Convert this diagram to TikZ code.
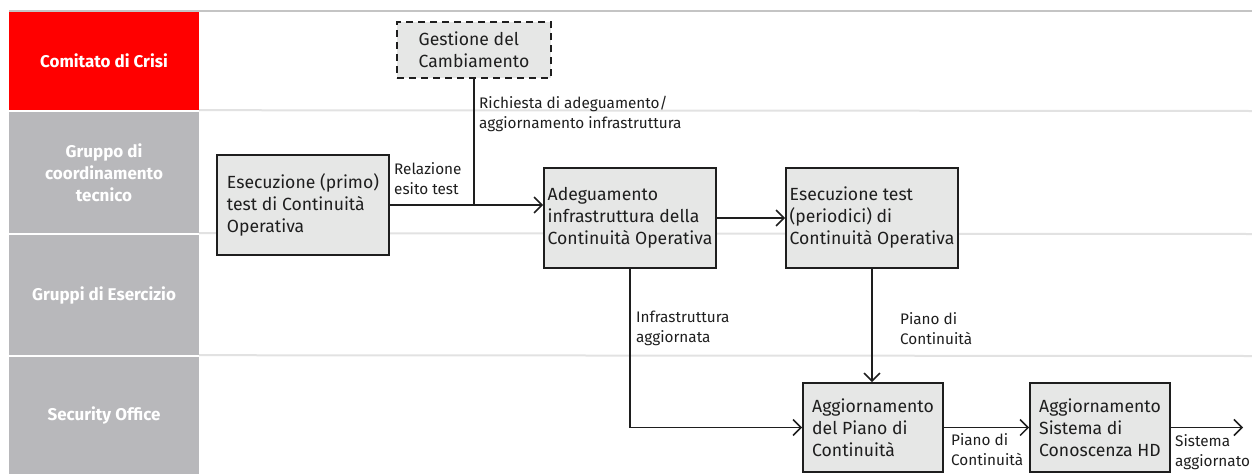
\documentclass[tikz,border=0pt]{standalone}
\usepackage{fontspec}
\setmainfont{Fira Sans}
\usetikzlibrary{arrows.meta}
\definecolor{laneRed}{HTML}{FF0000}
\definecolor{laneGray}{HTML}{B8B8BB}
\definecolor{boxFill}{HTML}{E6E7E6}
\definecolor{sepLine}{HTML}{E2E2E2}
\definecolor{topLine}{HTML}{C4C4C4}
\definecolor{ink}{HTML}{1E1E1E}
\begin{document}
\begin{tikzpicture}[x=1pt,y=-1pt,
  lanehead/.style={draw=none,inner sep=0pt,minimum width=190pt,align=center,
    text=white,font=\fontsize{17}{22}\selectfont\bfseries},
  taskbox/.style={draw=ink,line width=1.8pt,fill=boxFill,align=left,inner sep=0pt,
    font=\fontsize{17.6}{22}\selectfont,text=ink},
  flowlabel/.style={anchor=north west,inner sep=0pt,align=left,
    font=\fontsize{15.3}{20}\selectfont,text=ink},
  flow/.style={draw=ink,line width=1.5pt,-{Straight Barb[length=8pt,width=16pt,line width=1.5pt]}},
  joinline/.style={draw=ink,line width=1.5pt}]
\useasboundingbox (0,0) rectangle (1252,474);

% swimlane headers
\node[lanehead,fill=laneRed,minimum height=99pt] (l1) at (104,60.5) {Comitato di Crisi};
\node[lanehead,fill=laneGray,minimum height=121pt] (l2) at (104,172.5) {Gruppo di\\coordinamento\\tecnico};
\node[lanehead,fill=laneGray,minimum height=120pt] (l3) at (104,295) {Gruppi di Esercizio};
\node[lanehead,fill=laneGray,minimum height=117pt] (l4) at (104,415.5) {Security Office};

% lane borders
\draw[topLine,line width=1.5pt] (9,11) -- (1252,11);
\draw[sepLine,line width=2pt] (l1.south east) -- (1252,111);
\draw[sepLine,line width=2pt] (l2.south east) -- (1252,234);
\draw[sepLine,line width=2pt] (l3.south east) -- (1252,356);

% activities
\node[taskbox,dashed,dash pattern=on 7pt off 5pt,line width=2.5pt,minimum width=154pt,minimum height=56pt] (gc) at (474,50) {Gestione del\\Cambiamento};
\node[taskbox,minimum width=172pt,minimum height=100pt] (e1) at (303,205) {Esecuzione (primo)\\test di Continuità\\Operativa};
\node[taskbox,minimum width=172pt,minimum height=100pt] (ad) at (630,218) {Adeguamento\\infrastruttura della\\Continuità Operativa};
\node[taskbox,minimum width=172pt,minimum height=100pt] (pe) at (872,218) {Esecuzione test\\(periodici) di\\Continuità Operativa};
\node[taskbox,minimum width=140pt,minimum height=89pt] (ap) at (873,427.5) {Aggiornamento\\del Piano di\\Continuità};
\node[taskbox,minimum width=140pt,minimum height=89pt] (sk) at (1100,427.5) {Aggiornamento\\Sistema di\\Conoscenza HD};
\coordinate (out) at (1243,427.5);

% flows
\draw[flow] (e1.east) -- (e1.east -| ad.west);
\draw[joinline] (gc.south) -- (gc.south |- e1.east);
\draw[flow] (ad.east) -- (pe.west);
\draw[flow] (pe.south) -- (pe.south |- ap.north);
\draw[flow] (ad.south) |- (ap.west);
\draw[flow] (ap.east) -- (sk.west);
\draw[flow] (sk.east) -- (out);

% flow labels
\node[flowlabel] (t1) at (394,162) {Relazione\\esito test};
\node[flowlabel] (t2) at (479,96) {Richiesta di adeguamento/\\aggiornamento infrastruttura};
\node[flowlabel] (t3) at (636,311) {Infrastruttura\\aggiornata};
\node[flowlabel] (t4) at (900,312) {Piano di\\Continuità};
\node[flowlabel] (t5) at (951,433) {Piano di\\Continuità};
\node[flowlabel] (t6) at (1175,434) {Sistema\\aggiornato};
\end{tikzpicture}
\end{document}
